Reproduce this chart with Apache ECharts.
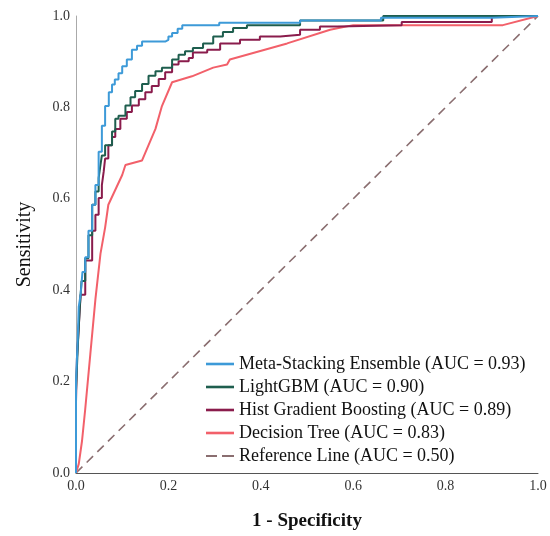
<!DOCTYPE html>
<html><head><meta charset="utf-8">
<script src="https://cdn.jsdelivr.net/npm/echarts@6/dist/echarts.min.js"></script>
<style>html,body{margin:0;padding:0;background:#fff}#c{width:550px;height:536px}</style>
</head><body><div id="c"></div>
<script>
const xTicks = ['0.0','0.2','0.4','0.6','0.8','1.0'];
const yTicks = ['0.0','0.2','0.4','0.6','0.8','1.0'];
const seriesNames = ['Meta-Stacking Ensemble (AUC = 0.93)','LightGBM (AUC = 0.90)','Hist Gradient Boosting (AUC = 0.89)','Decision Tree (AUC = 0.83)','Reference Line (AUC = 0.50)'];

const metaFPR = [0,0,0.004,0.006,0.01,0.014,0.02,0.027,0.035,0.042,0.049,0.056,0.063,0.071,0.078,0.084,0.092,0.1,0.11,0.121,0.132,0.143,0.171,0.193,0.2,0.208,0.22,0.23,0.31,0.31,0.485,0.485,0.66,0.66,0.9,0.9,1];
const metaTPR = [0,0.2,0.3,0.364,0.39,0.44,0.472,0.53,0.587,0.63,0.703,0.76,0.803,0.833,0.85,0.861,0.875,0.89,0.905,0.926,0.935,0.944,0.944,0.948,0.955,0.963,0.972,0.98,0.98,0.985,0.985,0.99,0.99,0.996,0.996,1,1];

const lgbFPR = [0,0,0.004,0.008,0.012,0.02,0.027,0.035,0.042,0.049,0.052,0.056,0.063,0.078,0.085,0.092,0.107,0.118,0.128,0.143,0.157,0.172,0.186,0.208,0.222,0.236,0.253,0.275,0.297,0.318,0.34,0.37,0.485,0.485,0.665,0.665,1];
const lgbTPR = [0,0.18,0.28,0.36,0.42,0.47,0.52,0.587,0.616,0.645,0.667,0.695,0.717,0.747,0.775,0.782,0.804,0.822,0.836,0.851,0.869,0.879,0.887,0.905,0.915,0.923,0.93,0.94,0.955,0.965,0.974,0.98,0.984,0.99,0.993,1,1];

const hgbFPR = [0,0,0.002,0.006,0.01,0.02,0.035,0.042,0.049,0.056,0.06,0.063,0.07,0.078,0.085,0.096,0.11,0.121,0.136,0.15,0.164,0.179,0.193,0.208,0.222,0.244,0.253,0.284,0.312,0.355,0.398,0.442,0.485,0.528,0.565,0.705,0.705,0.89,0.9,1];
const hgbTPR = [0,0.155,0.25,0.32,0.39,0.465,0.53,0.565,0.602,0.63,0.66,0.688,0.717,0.735,0.753,0.775,0.79,0.804,0.818,0.833,0.847,0.862,0.877,0.894,0.901,0.908,0.92,0.926,0.94,0.948,0.955,0.959,0.97,0.977,0.98,0.98,0.987,0.987,1,1];

const dtFPR = [0,0.006,0.013,0.02,0.031,0.042,0.053,0.063,0.07,0.1,0.107,0.143,0.172,0.186,0.208,0.251,0.297,0.327,0.333,0.457,0.55,0.6,0.924,1];
const dtTPR = [0,0.02,0.07,0.14,0.26,0.38,0.48,0.537,0.587,0.652,0.674,0.684,0.753,0.803,0.855,0.868,0.887,0.894,0.905,0.94,0.97,0.98,0.98,1];

const refFPR = [0,1];
const refTPR = [0,1];

const colors = ['#3d9ad8','#1e5e4e','#8a1c4c','#f2606a','#8a6e70'];
const pairs = (a,b)=>a.map((v,i)=>[v,b[i]]);
const dataSets = [pairs(metaFPR,metaTPR),pairs(lgbFPR,lgbTPR),pairs(hgbFPR,hgbTPR),pairs(dtFPR,dtTPR),pairs(refFPR,refTPR)];
const serif = "'Liberation Serif','Times New Roman',serif";
const solidIcon = 'path://M0,0H28V2.6H0Z';
const dashIcon = 'path://M0,0H11V2.2H0ZM16,0H28V2.2H16Z';

const chart = echarts.init(document.getElementById('c'), null, {renderer:'canvas'});
chart.setOption({
  backgroundColor:'#fff',
  animation:false,
  grid:{left:76,right:12,top:16,bottom:58},
  xAxis:{type:'value',min:0,max:1,interval:0.2,
    name:'1 - Specificity',nameLocation:'middle',nameGap:39,
    nameTextStyle:{fontFamily:serif,fontSize:19,fontWeight:'bold',color:'#111'},
    axisLine:{lineStyle:{color:'#555',width:1}},axisTick:{show:false},splitLine:{show:false},
    axisLabel:{fontFamily:serif,fontSize:14,color:'#333',margin:6,formatter:(v)=>xTicks[Math.round(v*5)]}},
  yAxis:{type:'value',min:0,max:1,interval:0.2,
    name:'Sensitivity',nameLocation:'middle',nameGap:41,
    nameTextStyle:{fontFamily:serif,fontSize:20,color:'#111'},
    axisLine:{show:true,lineStyle:{color:'#aaa',width:1}},axisTick:{show:false},splitLine:{show:false},
    axisLabel:{fontFamily:serif,fontSize:14,color:'#333',margin:6,formatter:(v)=>yTicks[Math.round(v*5)]}},
  legend:{orient:'vertical',left:201,top:350,itemWidth:28,itemHeight:3,itemGap:5,
    textStyle:{fontFamily:serif,fontSize:18,color:'#111'},
    data:seriesNames.map((n,i)=>({name:n,icon:i===4?dashIcon:solidIcon}))},
  series:seriesNames.map((n,i)=>({
    name:n,type:'line',data:dataSets[i],symbol:'none',showSymbol:false,
    step:(i<3)?'end':false,
    lineStyle:{color:colors[i],width:i===4?1.6:2,type:i===4?[9,6]:'solid'},
    itemStyle:{color:colors[i]},
    z:i===4?1:(6-i)
  }))
});
</script></body></html>
